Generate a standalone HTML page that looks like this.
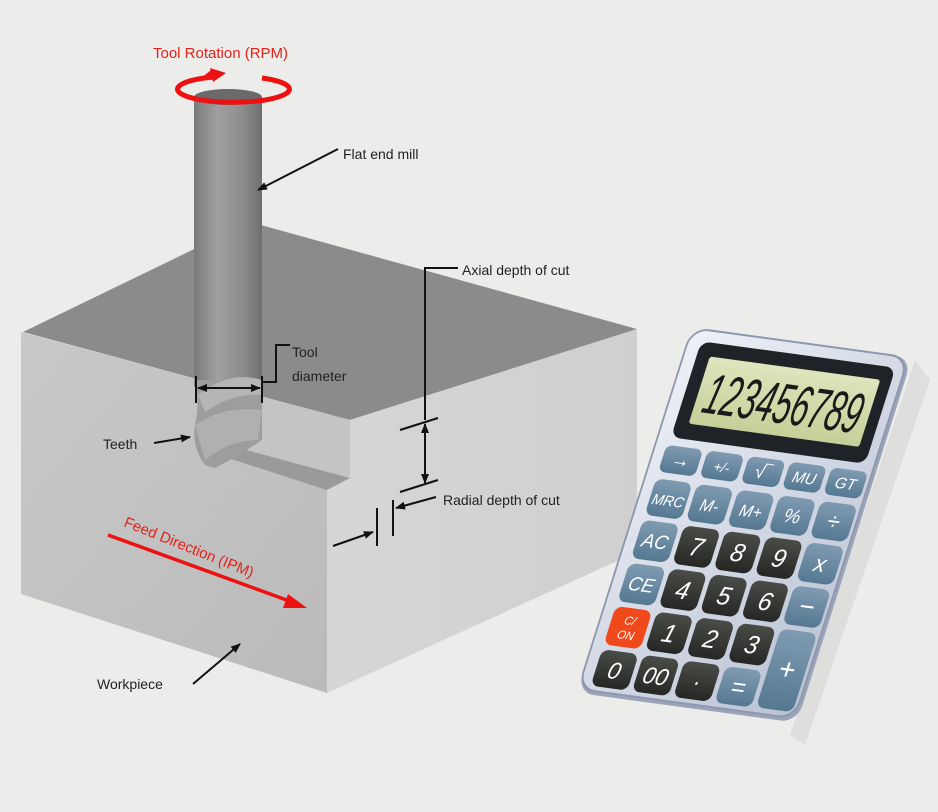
<!DOCTYPE html>
<html><head><meta charset="utf-8"><style>
html,body{margin:0;padding:0;background:#ececeb;}
svg{display:block;font-family:"Liberation Sans",sans-serif;}
</style></head><body>
<svg width="938" height="812" viewBox="0 0 938 812" xmlns="http://www.w3.org/2000/svg">
<defs>
<linearGradient id="cyl" x1="0" x2="1" y1="0" y2="0">
<stop offset="0" stop-color="#7a7a7a"/><stop offset="0.35" stop-color="#a0a0a0"/><stop offset="0.7" stop-color="#8e8e8e"/><stop offset="1" stop-color="#6e6e6e"/></linearGradient>
<linearGradient id="front" x1="0" x2="1" y1="0" y2="1"><stop offset="0" stop-color="#c9c9c9"/><stop offset="1" stop-color="#bababa"/></linearGradient>
<linearGradient id="right" x1="0" x2="1"><stop offset="0" stop-color="#d6d6d6"/><stop offset="1" stop-color="#cfcfcf"/></linearGradient>
<linearGradient id="body" x1="0" x2="1" y1="0" y2="1"><stop offset="0" stop-color="#eef1f7"/><stop offset="1" stop-color="#b9c1d3"/></linearGradient>
<linearGradient id="blue" x1="0" x2="0" y1="0" y2="1"><stop offset="0" stop-color="#7f9bb2"/><stop offset="1" stop-color="#557892"/></linearGradient>
<linearGradient id="dark" x1="0" x2="0" y1="0" y2="1"><stop offset="0" stop-color="#4a4c48"/><stop offset="1" stop-color="#262724"/></linearGradient>
<linearGradient id="lcd" x1="0" x2="0" y1="0" y2="1"><stop offset="0" stop-color="#dfe5bd"/><stop offset="1" stop-color="#c6cf98"/></linearGradient>
<marker id="ah" markerWidth="10" markerHeight="8" refX="9" refY="4" orient="auto" markerUnits="userSpaceOnUse"><path d="M0,0 L10,4 L0,8 z" fill="#111"/></marker>
<marker id="ahs" markerWidth="10" markerHeight="8" refX="1" refY="4" orient="auto" markerUnits="userSpaceOnUse"><path d="M10,0 L0,4 L10,8 z" fill="#111"/></marker>
</defs>

<!-- Block -->
<polygon points="23,332 250,222 637,329 350,420 230,388" fill="#8b8b8b"/>
<polygon points="350,420 637,329 637,552 327,693 327,490 350,478" fill="url(#right)"/>
<polygon points="21,332 230,388 228,450 327,490 327,693 21,594" fill="url(#front)"/>
<polygon points="230,388 350,420 350,478 228,445" fill="#c4c4c4"/>
<polygon points="228,445 350,478 327,490 228,458" fill="#9a9a9a"/>

<!-- Tool -->
<rect x="194" y="97" width="68" height="290" fill="url(#cyl)"/>
<path d="M194,380 Q200,400 196,420 Q190,445 205,465 L215,468 Q240,455 262,440 L262,380 Z" fill="#9d9d9d"/>
<path d="M198,395 Q230,370 262,380 L262,395 Q235,392 205,412 Z" fill="#b5b5b5"/>
<path d="M195,425 Q225,405 262,410 L258,440 Q230,440 205,460 Z" fill="#b0b0b0"/>
<ellipse cx="228" cy="97" rx="34" ry="8" fill="#6a6a6a"/>

<!-- Rotation ring -->
<path d="M214,77 A56,13 0 1 0 262,78" fill="none" stroke="#e11" stroke-width="5"/>
<path d="M203,79 L212,72" stroke="#e11" stroke-width="4"/>
<polygon points="226,73 210,68 213,82" fill="#e11"/>
<text x="153" y="58" font-size="15" fill="#e2231a">Tool Rotation (RPM)</text>

<!-- Labels -->
<text x="343" y="159" font-size="14" fill="#222">Flat end mill</text>
<line x1="338" y1="149" x2="258" y2="190" stroke="#111" stroke-width="2" marker-end="url(#ah)"/>

<text x="462" y="275" font-size="14" fill="#222">Axial depth of cut</text>
<polyline points="458,268 425,268 425,420" fill="none" stroke="#111" stroke-width="2"/>
<line x1="400" y1="430" x2="438" y2="418" stroke="#111" stroke-width="2"/>
<line x1="400" y1="492" x2="438" y2="480" stroke="#111" stroke-width="2"/>
<line x1="425" y1="424" x2="425" y2="483" stroke="#111" stroke-width="2" marker-start="url(#ahs)" marker-end="url(#ah)"/>

<text x="292" y="357" font-size="14" fill="#222">Tool</text>
<text x="292" y="381" font-size="14" fill="#222">diameter</text>
<polyline points="290,345 276,345 276,382 262,382" fill="none" stroke="#111" stroke-width="2"/>
<line x1="196" y1="376" x2="196" y2="403" stroke="#111" stroke-width="2"/>
<line x1="262" y1="376" x2="262" y2="403" stroke="#111" stroke-width="2"/>
<line x1="198" y1="388" x2="260" y2="388" stroke="#111" stroke-width="2" marker-start="url(#ahs)" marker-end="url(#ah)"/>

<text x="103" y="449" font-size="14" fill="#222">Teeth</text>
<line x1="154" y1="443" x2="190" y2="437" stroke="#111" stroke-width="2" marker-end="url(#ah)"/>

<text x="443" y="505" font-size="14" fill="#222">Radial depth of cut</text>
<line x1="377" y1="508" x2="377" y2="546" stroke="#111" stroke-width="2"/>
<line x1="393" y1="500" x2="393" y2="536" stroke="#111" stroke-width="2"/>
<line x1="436" y1="497" x2="396" y2="508" stroke="#111" stroke-width="2" marker-end="url(#ah)"/>
<line x1="333" y1="546" x2="373" y2="532" stroke="#111" stroke-width="2" marker-end="url(#ah)"/>

<text x="0" y="0" font-size="15" fill="#e2231a" transform="translate(123,526) rotate(22)">Feed Direction (IPM)</text>
<line x1="108" y1="535" x2="292" y2="602" stroke="#e11" stroke-width="3.5"/>
<polygon points="307,608 288,594 283,608" fill="#e11"/>

<text x="97" y="689" font-size="14" fill="#222">Workpiece</text>
<line x1="193" y1="684" x2="240" y2="644" stroke="#111" stroke-width="2" marker-end="url(#ah)"/>

<!-- Calculator -->
<polygon points="915,360 930,380 805,745 790,735" fill="#000" opacity="0.06"/>
<g transform="matrix(0.917,0.125,-0.303,0.96,692,328)">
<rect x="0" y="0" width="240" height="380" rx="18" fill="#9aa3b8"/>
<rect x="0" y="0" width="236" height="376" rx="18" fill="url(#body)" stroke="#8e97ad" stroke-width="2"/>
<rect x="14" y="12" width="212" height="100" rx="10" fill="#1f2226"/>
<rect x="28" y="26" width="186" height="70" rx="3" fill="url(#lcd)"/>
<text x="121" y="83" font-size="58" fill="#1a1a1a" text-anchor="middle" font-style="italic" textLength="170" lengthAdjust="spacingAndGlyphs">123456789</text>
<g font-size="20" fill="#fff" text-anchor="middle" font-style="italic">
<rect x="12" y="120" width="40" height="28" rx="7" fill="url(#blue)"/><text x="32" y="140">→</text>
<rect x="57" y="120" width="40" height="28" rx="7" fill="url(#blue)"/><text x="77" y="140" font-size="14">+/-</text>
<rect x="102" y="120" width="40" height="28" rx="7" fill="url(#blue)"/><text x="122" y="141">√‾</text>
<rect x="147" y="120" width="40" height="28" rx="7" fill="url(#blue)"/><text x="167" y="140" font-size="16">MU</text>
<rect x="192" y="120" width="40" height="28" rx="7" fill="url(#blue)"/><text x="212" y="140" font-size="16">GT</text>
<rect x="12" y="155" width="40" height="38" rx="8" fill="url(#blue)"/><text x="32" y="181" font-size="15">MRC</text>
<rect x="57" y="155" width="40" height="38" rx="8" fill="url(#blue)"/><text x="77" y="181" font-size="17">M-</text>
<rect x="102" y="155" width="40" height="38" rx="8" fill="url(#blue)"/><text x="122" y="181" font-size="17">M+</text>
<rect x="147" y="155" width="40" height="38" rx="8" fill="url(#blue)"/><text x="167" y="181">%</text>
<rect x="192" y="155" width="40" height="38" rx="8" fill="url(#blue)"/><text x="212" y="182" font-size="24">÷</text>
<rect x="12" y="198" width="40" height="40" rx="8" fill="url(#blue)"/><text x="32" y="225">AC</text>
<rect x="57" y="198" width="40" height="40" rx="8" fill="url(#dark)"/><text x="77" y="227" font-size="26">7</text>
<rect x="102" y="198" width="40" height="40" rx="8" fill="url(#dark)"/><text x="122" y="227" font-size="26">8</text>
<rect x="147" y="198" width="40" height="40" rx="8" fill="url(#dark)"/><text x="167" y="227" font-size="26">9</text>
<rect x="192" y="198" width="40" height="40" rx="8" fill="url(#blue)"/><text x="212" y="226" font-size="24">x</text>
<rect x="12" y="243" width="40" height="40" rx="8" fill="url(#blue)"/><text x="32" y="270">CE</text>
<rect x="57" y="243" width="40" height="40" rx="8" fill="url(#dark)"/><text x="77" y="272" font-size="26">4</text>
<rect x="102" y="243" width="40" height="40" rx="8" fill="url(#dark)"/><text x="122" y="272" font-size="26">5</text>
<rect x="147" y="243" width="40" height="40" rx="8" fill="url(#dark)"/><text x="167" y="272" font-size="26">6</text>
<rect x="192" y="243" width="40" height="40" rx="8" fill="url(#blue)"/><text x="212" y="272" font-size="28">−</text>
<rect x="12" y="288" width="40" height="40" rx="8" fill="#f04a1c"/><text x="32" y="305" font-size="12">C/</text><text x="32" y="320" font-size="12">ON</text>
<rect x="57" y="288" width="40" height="40" rx="8" fill="url(#dark)"/><text x="77" y="317" font-size="26">1</text>
<rect x="102" y="288" width="40" height="40" rx="8" fill="url(#dark)"/><text x="122" y="317" font-size="26">2</text>
<rect x="147" y="288" width="40" height="40" rx="8" fill="url(#dark)"/><text x="167" y="317" font-size="26">3</text>
<rect x="192" y="288" width="40" height="82" rx="8" fill="url(#blue)"/><text x="212" y="338" font-size="30">+</text>
<rect x="12" y="333" width="40" height="38" rx="8" fill="url(#dark)"/><text x="32" y="361" font-size="24">0</text>
<rect x="57" y="333" width="40" height="38" rx="8" fill="url(#dark)"/><text x="77" y="361" font-size="24">00</text>
<rect x="102" y="333" width="40" height="38" rx="8" fill="url(#dark)"/><text x="122" y="361" font-size="24">·</text>
<rect x="147" y="333" width="40" height="38" rx="8" fill="url(#blue)"/><text x="167" y="361" font-size="26">=</text>
</g>
</g>
</svg>
</body></html>
